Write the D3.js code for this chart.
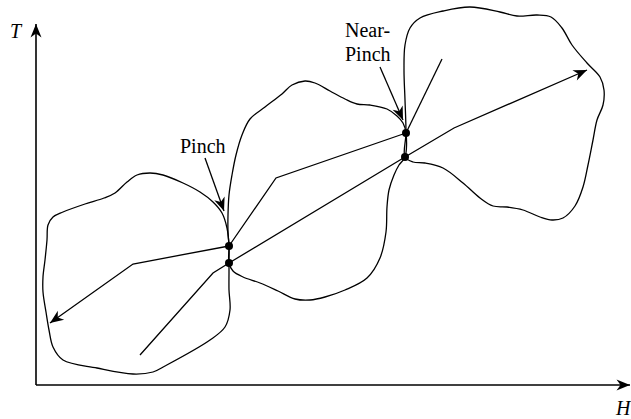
<!DOCTYPE html>
<html>
<head>
<meta charset="utf-8">
<script src="https://cdn.jsdelivr.net/npm/d3@7"></script>
<style>
  body { margin: 0; background: #fff; }
  text { font-family: "Liberation Serif", "Times New Roman", serif; fill: #000; }
</style>
</head>
<body>
<script>
// H (enthalpy) / T (temperature) values, origin at the axis corner
const leftRegion = [
  [193,139],[191,157],[186,172],[177,183],[164,193],[147,202],[127,210],[114,212],
  [101,210],[91,203],[79,192],[68,187],[49,181],[27,173],[17,168],[12,160],[11,145],
  [9,125],[7,108],[7,93],[10,73],[13,55],[17,38],[27,25],[61,17],[97,11],[117,13],
  [129,19],[174,45],[189,58],[194,75],[193,95],[193,112],[193,122]
];
const middleRegion = [
  [193,122],[197,114],[207,108],[224,102],[242,94],[259,86],[274,85],[289,88],
  [309,95],[331,107],[344,127],[350,153],[351,178],[353,195],[358,210],[363,220],
  [369,228],[370,252],[367,262],[361,269],[351,276],[334,280],[321,281],[309,286],
  [294,294],[279,302],[269,304],[256,300],[246,291],[229,278],[214,266],[206,250],
  [200,230],[196,210],[193,190],[192,170],[192,153],[193,139]
];
const rightRegion = [
  [370,252],[369,285],[368,315],[369,340],[374,357],[384,367],[407,374],[434,378],
  [464,373],[481,369],[501,370],[515,368],[526,357],[536,340],[551,322],[564,308],
  [568,295],[567,280],[561,265],[557,245],[552,220],[547,198],[539,179],[527,167],
  [516,165],[504,168],[487,175],[471,178],[457,179],[444,187],[427,202],[407,217],
  [389,222],[377,223],[369,228]
];

const pinchPoints = [[193,139],[193,122],[370,252],[369,228]];

// streams inside the regions
const streams = [
  {pts: [[193,139],[97,121],[14,62]], arrow: true},
  {pts: [[193,122],[177,112],[104,30]], arrow: false},
  {pts: [[193,139],[240,207],[370,252]], arrow: false},
  {pts: [[193,122],[369,228],[418,257],[551,315]], arrow: true},
  {pts: [[370,252],[406,326]], arrow: false}
];

// label pointers
const pointers = [
  [[169,227],[188,174]],
  [[344,318],[367,265]]
];

const labels = [
  {text: "Pinch", at: [144,232]},
  {text: "Near-", at: [309,348]},
  {text: "Pinch", at: [309,324]}
];

const hMax = 595, tMax = 362;

const width = 631, height = 419;
const origin = {x: 36, y: 385};

const svg = d3.select("body").append("svg")
  .attr("width", width)
  .attr("height", height);

const x = d3.scaleLinear().domain([0, hMax]).range([origin.x, origin.x + hMax]);
const y = d3.scaleLinear().domain([0, tMax]).range([origin.y, origin.y - tMax]);

svg.append("defs").append("marker")
  .attr("id", "head")
  .attr("markerUnits", "userSpaceOnUse")
  .attr("viewBox", "-14 -7 15 14")
  .attr("refX", 0)
  .attr("refY", 0)
  .attr("markerWidth", 15)
  .attr("markerHeight", 14)
  .attr("orient", "auto")
  .append("path")
  .attr("d", "M0,0 L-13.5,-5.5 L-9.5,0 L-13.5,5.5 Z")
  .attr("fill", "#000");

const line = d3.line().x(d => x(d[0])).y(d => y(d[1]));
const closed = d3.line()
  .x(d => x(d[0])).y(d => y(d[1]))
  .curve(d3.curveCatmullRomClosed.alpha(0.5));

// axes
svg.append("path")
  .attr("d", line([[0, 0], [0, tMax - 1]]))
  .attr("stroke", "#000").attr("stroke-width", 1.6).attr("fill", "none")
  .attr("marker-end", "url(#head)");
svg.append("path")
  .attr("d", line([[0, 0], [hMax - 1, 0]]))
  .attr("stroke", "#000").attr("stroke-width", 1.6).attr("fill", "none")
  .attr("marker-end", "url(#head)");

svg.append("text")
  .attr("x", 10).attr("y", 38)
  .style("font-style", "italic").style("font-size", "20px")
  .text("T");
svg.append("text")
  .attr("x", 616).attr("y", 415)
  .style("font-style", "italic").style("font-size", "20px")
  .text("H");

// region outlines
svg.selectAll(".region")
  .data([leftRegion, middleRegion, rightRegion])
  .enter().append("path")
  .attr("class", "region")
  .attr("d", closed)
  .attr("fill", "none")
  .attr("stroke", "#000")
  .attr("stroke-width", 1.3);

svg.selectAll(".stream")
  .data(streams)
  .enter().append("path")
  .attr("class", "stream")
  .attr("d", d => line(d.pts))
  .attr("fill", "none")
  .attr("stroke", "#000")
  .attr("stroke-width", 1.3)
  .attr("marker-end", d => d.arrow ? "url(#head)" : null);

svg.selectAll(".pointer")
  .data(pointers)
  .enter().append("path")
  .attr("class", "pointer")
  .attr("d", line)
  .attr("fill", "none")
  .attr("stroke", "#000")
  .attr("stroke-width", 1.3)
  .attr("marker-end", "url(#head)");

svg.selectAll(".dot")
  .data(pinchPoints)
  .enter().append("circle")
  .attr("class", "dot")
  .attr("cx", d => x(d[0]))
  .attr("cy", d => y(d[1]))
  .attr("r", 4)
  .attr("fill", "#000");

svg.selectAll(".label")
  .data(labels)
  .enter().append("text")
  .attr("class", "label")
  .attr("x", d => x(d.at[0]))
  .attr("y", d => y(d.at[1]))
  .style("font-size", "20px")
  .text(d => d.text);
</script>
</body>
</html>
